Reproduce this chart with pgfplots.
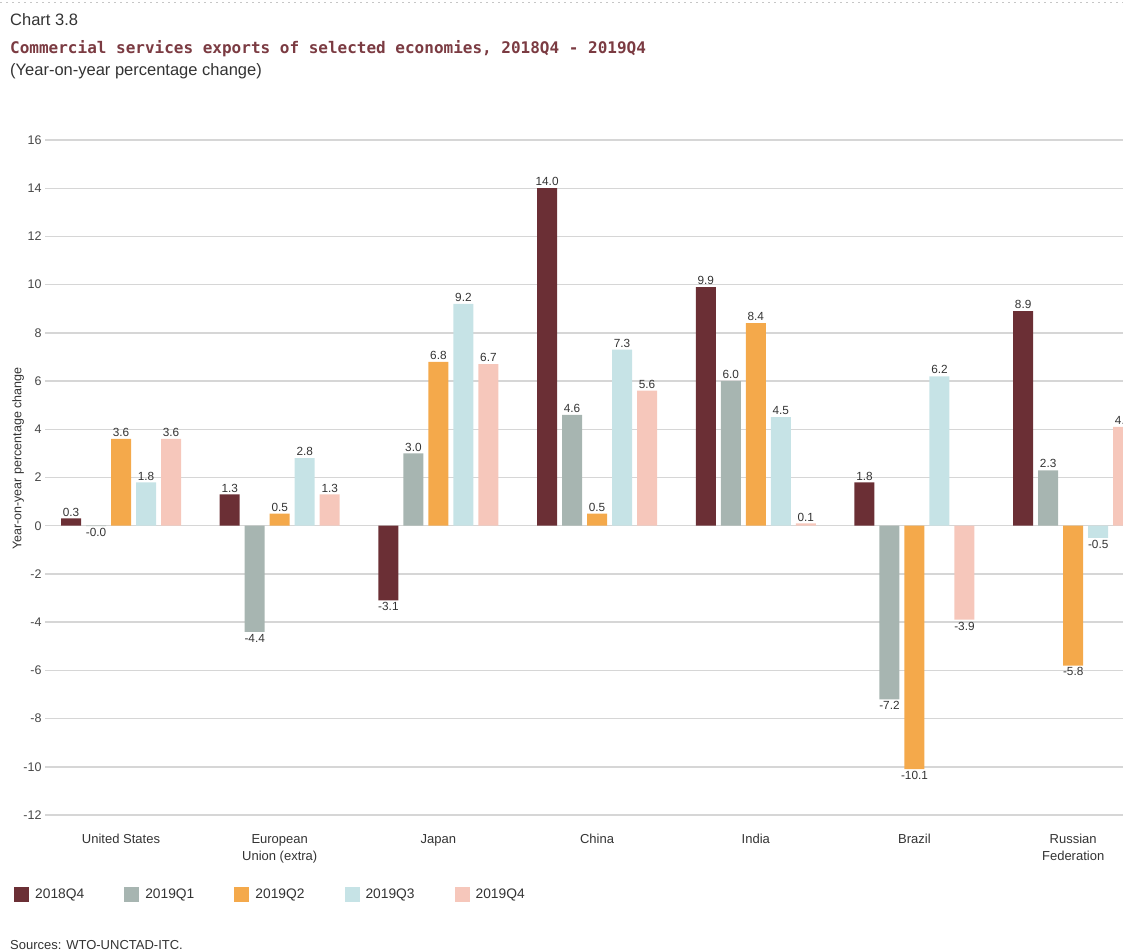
\documentclass[border=0pt]{standalone}
\usepackage{fontspec}
\setmainfont{Liberation Sans}
\newfontfamily\titlefont{DejaVu Sans Mono}
\usepackage{pgfplots}
\pgfplotsset{compat=1.18}

\definecolor{cQfour}{HTML}{6B2F35}
\definecolor{cQone}{HTML}{A7B5B1}
\definecolor{cQtwo}{HTML}{F4A94B}
\definecolor{cQthree}{HTML}{C6E3E6}
\definecolor{cQfourb}{HTML}{F6C7BB}
\definecolor{titlecol}{HTML}{7B3B42}
\definecolor{gridcol}{HTML}{D6D6D6}
\definecolor{txt}{HTML}{333333}

\begin{document}
\begin{tikzpicture}
\path[use as bounding box, clip] (0,0) rectangle (1123pt,-951pt);

% header
\draw[gray!45, line width=1pt, dash pattern=on 1.5pt off 4.5pt] (0,-2pt) -- (1123pt,-2pt);
\node[anchor=base west, inner sep=0pt, text=txt, font=\fontsize{16.5}{19}\selectfont] at (10pt,-25pt) {Chart 3.8};
\node[anchor=base west, inner sep=0pt, text=titlecol, font=\titlefont\bfseries\fontsize{16}{19}\selectfont] at (10pt,-53pt) {Commercial services exports of selected economies, 2018Q4 - 2019Q4};
\node[anchor=base west, inner sep=0pt, text=txt, font=\fontsize{16.5}{19}\selectfont] at (10pt,-75pt) {(Year-on-year percentage change)};

\begin{axis}[
  at={(45pt,-815pt)}, anchor=south west,
  scale only axis, width=1078pt, height=675pt,
  ybar=5pt, bar width=20pt,
  xmin=-0.479, xmax=6.314,
  ymin=-12, ymax=16,
  ytick={-12,-10,...,16},
  xtick={0,...,6},
  xticklabels={United States, European\\Union (extra), Japan, China, India, Brazil, Russian\\Federation},
  axis line style={draw=none},
  major tick length=0pt,
  ymajorgrids, grid style={gridcol, line width=1.4pt},
  /pgf/number format/assume math mode=true,
  yticklabel style={font=\fontsize{12.5}{14}\selectfont, text=txt!90},
  xticklabel style={align=center, font=\fontsize{13}{16.7}\selectfont, text=txt, yshift=-16pt},
  ylabel={Year-on-year percentage change},
  ylabel style={at={(axis description cs:-0.025,0.528)}, anchor=center,
    font=\fontsize{12.5}{14}\selectfont, text=txt},
  nodes near coords, point meta=explicit symbolic,
  visualization depends on={rawy \as \rawy},
  every node near coord/.append style={font=\fontsize{11.8}{12}\selectfont, text=txt, inner sep=2pt,
    anchor=\ifdim\rawy pt<0pt north\else south\fi},
  legend image code/.code={\draw[#1, draw=none] (0pt,-7.5pt) rectangle (15pt,7.5pt);},
  legend columns=5,
  legend style={at={(0,0)}, anchor=west, xshift=-31pt, yshift=-79.5pt,
    draw=none, fill=none, inner sep=0pt,
    font=\fontsize{13.8}{15}\selectfont, text=txt,
    nodes={inner sep=0pt},
    /tikz/every odd column/.append style={column sep=6pt},
    /tikz/every even column/.append style={column sep=40pt}},
]
\addplot[fill=cQfour, draw=none] coordinates {(0,0.3)[0.3] (1,1.3)[1.3] (2,-3.1)[-3.1] (3,14.0)[14.0] (4,9.9)[9.9] (5,1.8)[1.8] (6,8.9)[8.9]};
\addplot[fill=cQone, draw=none] coordinates {(0,-0.02)[-0.0] (1,-4.4)[-4.4] (2,3.0)[3.0] (3,4.6)[4.6] (4,6.0)[6.0] (5,-7.2)[-7.2] (6,2.3)[2.3]};
\addplot[fill=cQtwo, draw=none] coordinates {(0,3.6)[3.6] (1,0.5)[0.5] (2,6.8)[6.8] (3,0.5)[0.5] (4,8.4)[8.4] (5,-10.1)[-10.1] (6,-5.8)[-5.8]};
\addplot[fill=cQthree, draw=none] coordinates {(0,1.8)[1.8] (1,2.8)[2.8] (2,9.2)[9.2] (3,7.3)[7.3] (4,4.5)[4.5] (5,6.2)[6.2] (6,-0.5)[-0.5]};
\addplot[fill=cQfourb, draw=none] coordinates {(0,3.6)[3.6] (1,1.3)[1.3] (2,6.7)[6.7] (3,5.6)[5.6] (4,0.1)[0.1] (5,-3.9)[-3.9] (6,4.1)[4.1]};
\legend{2018Q4,2019Q1,2019Q2,2019Q3,2019Q4}
\end{axis}

\node[anchor=base west, inner sep=0pt, text=txt, font=\fontsize{13}{15}\selectfont] at (10pt,-949pt) {Sources: WTO-UNCTAD-ITC.};
\end{tikzpicture}
\end{document}
